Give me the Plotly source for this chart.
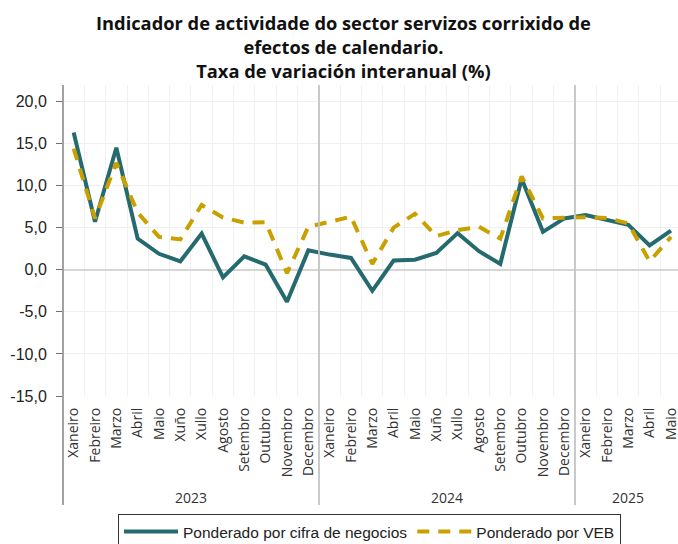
import plotly.graph_objects as go

# ---------------- data ----------------
years = ["2023", "2024", "2025"]
months_per_year = [12, 12, 5]
month_names = ["Xaneiro", "Febreiro", "Marzo", "Abril", "Maio", "Xuño", "Xullo",
               "Agosto", "Setembro", "Outubro", "Novembro", "Decembro"]
tick_labels = [m for n in months_per_year for m in month_names[:n]]

cifra_negocios = [16.3, 5.7, 14.5, 3.7, 1.9, 1.0, 4.3, -0.9, 1.6, 0.6, -3.8, 2.3,
                  1.8, 1.4, -2.5, 1.1, 1.2, 2.0, 4.35, 2.2, 0.7, 10.8, 4.5, 6.1,
                  6.5, 5.9, 5.35, 2.9, 4.65]
veb = [14.4, 6.1, 12.7, 6.8, 3.9, 3.6, 7.7, 6.2, 5.6, 5.65, -0.4, 5.1,
       5.7, 6.3, 0.7, 5.0, 6.65, 4.0, 4.7, 5.1, 3.7, 11.1, 6.1, 6.2,
       6.25, 6.15, 5.5, 1.0, 3.9]

y_ticks = [20, 15, 10, 5, 0, -5, -10, -15]
y_tick_labels = ["20,0", "15,0", "10,0", "5,0", "0,0", "-5,0", "-10,0", "-15,0"]

series_names = ["Ponderado por cifra de negocios", "Ponderado por VEB"]
title_text = ("<b>Indicador de actividade do sector servizos corrixido de<br>"
              "efectos de calendario.<br>Taxa de variación interanual (%)</b>")

TEAL = "#256a6e"
GOLD = "#c8a000"

x_idx = list(range(len(tick_labels)))

fig = go.Figure()
fig.add_trace(go.Scatter(x=x_idx, y=cifra_negocios, mode="lines", name=series_names[0],
                         line=dict(color=TEAL, width=4)))
fig.add_trace(go.Scatter(x=x_idx, y=veb, mode="lines", name=series_names[1],
                         line=dict(color=GOLD, width=4, dash="12px,9px")))

# group boundaries
bounds = []
acc = 0
for n in months_per_year:
    bounds.append((acc - 0.5, acc + n - 0.5))
    acc += n

plot_left, plot_top, plot_bottom = 63, 85, 396
H = 544
W = 678
ph = plot_bottom - plot_top
pw = W - plot_left
ext = -(505 - plot_bottom) / ph

# left axis line (extended through label area)
fig.add_shape(type="line", xref="paper", yref="paper", x0=0, x1=0, y0=ext, y1=1,
              line=dict(color="#707070", width=1.3))
# year separators
for (a, b) in bounds[:-1]:
    fig.add_shape(type="line", xref="x", yref="paper", x0=b, x1=b, y0=ext, y1=1,
                  line=dict(color="#c4c4c4", width=1.8))

# year labels
for yr, (a, b) in zip(years, bounds):
    fig.add_annotation(x=(a + b) / 2, y=-(497 - plot_bottom) / ph, xref="x", yref="paper",
                       text=yr, showarrow=False, yanchor="middle",
                       font=dict(family="Open Sans", size=14, color="#333333"))

# title
fig.add_annotation(x=(343 - plot_left) / pw, y=1 + (plot_top - 8) / ph, xref="paper", yref="paper",
                   text=title_text, showarrow=False, xanchor="center", yanchor="top",
                   align="center",
                   font=dict(family="Open Sans", size=18.3, color="#111111"))

fig.update_layout(
    width=W, height=H,
    margin=dict(l=plot_left, r=0, t=plot_top, b=H - plot_bottom, autoexpand=False),
    paper_bgcolor="white", plot_bgcolor="white",
    showlegend=True,
    legend=dict(orientation="h", xref="container", yref="container",
                x=118 / W, xanchor="left", y=1 - 514 / H, yanchor="top",
                bordercolor="#333333", borderwidth=1,
                font=dict(family="Liberation Sans, Arial", size=15.5, color="#222222"),
                itemwidth=54, tracegroupgap=0),
    xaxis=dict(range=[-0.5, 28.33], tickmode="array", tickvals=x_idx, ticktext=tick_labels,
               tickangle=-90, showgrid=False, zeroline=False, showline=False, ticks="",
               tickfont=dict(family="Open Sans", size=14, color="#333333"),
               ticklabelstandoff=8, ticklabeloverflow="allow",
               minor=dict(tickmode="array", tickvals=[i + 0.5 for i in x_idx[:-1]],
                          showgrid=True, gridcolor="#f0f0f0", gridwidth=1, ticks="")),
    yaxis=dict(range=[-15, 21.95], tickmode="array", tickvals=y_ticks, ticktext=y_tick_labels,
               showgrid=True, gridcolor="#efefef", gridwidth=1,
               zeroline=True, zerolinecolor="#d6d6d6", zerolinewidth=2,
               showline=False, ticks="outside", ticklen=6, tickcolor="#707070",
               ticklabelstandoff=6,
               tickfont=dict(family="Liberation Sans, Arial", size=16, color="#222222")),
)

fig.write_html("out.html", config={"displayModeBar": False},
               post_script="document.body.style.margin='0px';")
